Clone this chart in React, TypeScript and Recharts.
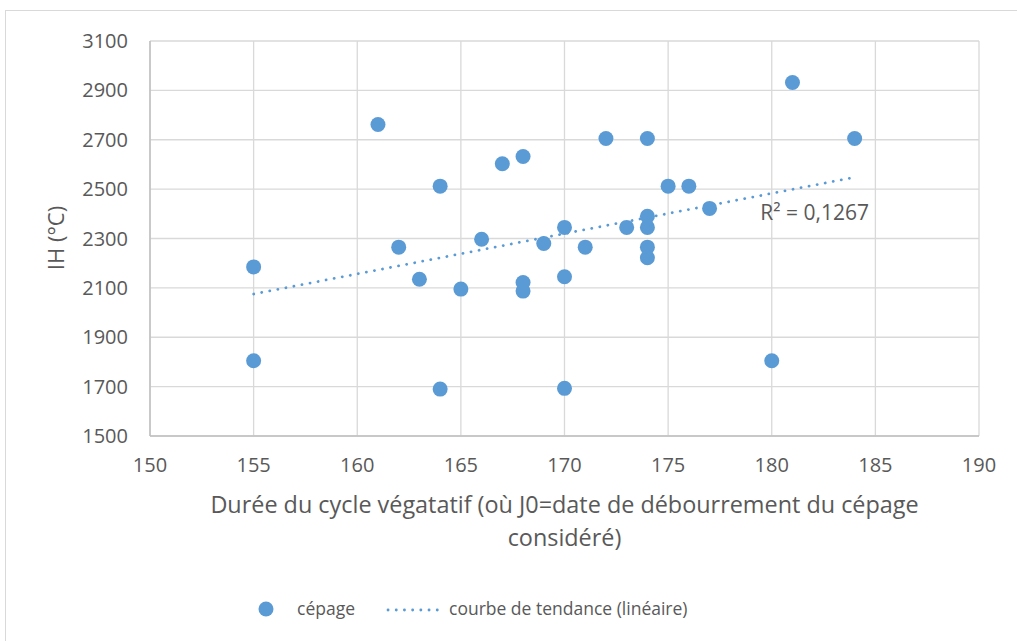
import { ScatterChart, Scatter, XAxis, YAxis, CartesianGrid, ReferenceDot } from 'recharts'

const durations = [155, 155, 161, 162, 163, 164, 164, 165, 166, 167, 168, 168, 168, 169, 170, 170, 170, 171, 172, 173, 174, 174, 174, 174, 174, 175, 176, 177, 180, 181, 184]
const ihValues = [2185, 1805, 2762, 2265, 2135, 2512, 1690, 2095, 2297, 2603, 2632, 2122, 2087, 2280, 2345, 2145, 1693, 2265, 2705, 2345, 2705, 2390, 2345, 2265, 2222, 2512, 2512, 2422, 1805, 2932, 2705]

const trendX = [155, 184]
const trendY = [2075, 2548]

const xTicks = [150, 155, 160, 165, 170, 175, 180, 185, 190]
const yTicks = [1500, 1700, 1900, 2100, 2300, 2500, 2700, 2900, 3100]

const BLUE = '#5b9bd5'
const TEXT = '#595959'
const FONT = '"Open Sans", sans-serif'

const points = durations.map((d, i) => ({ x: d, y: ihValues[i] }))
const trend = trendX.map((d, i) => ({ x: d, y: trendY[i] }))

export default function App() {
  return (
    <div style={{ position: 'fixed', left: 0, top: 0, width: 1017, height: 641, overflow: 'hidden', background: '#fff', fontFamily: FONT }}>
      <div style={{ position: 'absolute', left: 5, top: 10, width: 1100, height: 700, border: '1.5px solid #d9d9d9' }} />
      <ScatterChart width={1017} height={641} margin={{ top: 41, right: 38, bottom: 175, left: 90 }} style={{ position: 'absolute', left: 0, top: 0 }}>
        <CartesianGrid stroke="#d9d9d9" strokeWidth={1.3} />
        <XAxis
          type="number"
          dataKey="x"
          domain={[150, 190]}
          ticks={xTicks}
          tickLine={false}
          tickSize={0}
          tickMargin={22}
          axisLine={{ stroke: '#bfbfbf', strokeWidth: 1.5 }}
          tick={{ fill: TEXT, fontSize: 20, fontFamily: FONT }}
          label={{
            content: (p: any) => {
              const vb = p.viewBox
              const cx = vb.x + vb.width / 2
              return (
                <text textAnchor="middle" fill={TEXT} fontSize={23.4} fontFamily={FONT}>
                  <tspan x={cx} y={513}>Durée du cycle végatatif (où J0=date de débourrement du cépage</tspan>
                  <tspan x={cx} y={546}>considéré)</tspan>
                </text>
              )
            },
          }}
        />
        <YAxis
          type="number"
          dataKey="y"
          domain={[1500, 3100]}
          ticks={yTicks}
          width={60}
          tickLine={false}
          tickSize={0}
          tickMargin={22}
          axisLine={{ stroke: '#bfbfbf', strokeWidth: 1.5 }}
          tick={{ fill: TEXT, fontSize: 20, fontFamily: FONT }}
          label={{
            content: () => (
              <text x={55} y={238} transform="rotate(-90 55 238)" textAnchor="middle" dominantBaseline="central" fill={TEXT} fontSize={22} fontFamily={FONT}>
                IH (°C)
              </text>
            ),
          }}
        />
        <Scatter
          name="courbe de tendance (linéaire)"
          data={trend}
          isAnimationActive={false}
          fill={BLUE}
          line={{ stroke: BLUE, strokeWidth: 2.8, strokeDasharray: '0.1 8.1', strokeLinecap: 'round' }}
          shape={() => <g />}
        />
        <Scatter
          name="cépage"
          data={points}
          isAnimationActive={false}
          fill={BLUE}
          shape={(p: any) => <circle cx={p.cx} cy={p.cy} r={7.5} fill={BLUE} />}
        />
        <ReferenceDot
          x={179.45}
          y={2407}
          r={0}
          label={{
            content: (p: any) => (
              <text x={p.viewBox.x} y={p.viewBox.y} dominantBaseline="central" fill={TEXT} fontSize={21} fontFamily={FONT}>
                R² = 0,1267
              </text>
            ),
          }}
        />
      </ScatterChart>
      <div style={{ position: 'absolute', left: 0, top: 595, width: 1017, height: 30, color: TEXT, fontSize: 17.5, lineHeight: '26px' }}>
        <svg width={18} height={18} style={{ position: 'absolute', left: 257, top: 5 }}>
          <circle cx={9} cy={9} r={7.5} fill={BLUE} />
        </svg>
        <span style={{ position: 'absolute', left: 297, top: 0 }}>cépage</span>
        <svg width={60} height={10} style={{ position: 'absolute', left: 386, top: 10 }}>
          <line x1={2} y1={5} x2={58} y2={5} stroke={BLUE} strokeWidth={2.8} strokeDasharray="0.1 8.1" strokeLinecap="round" />
        </svg>
        <span style={{ position: 'absolute', left: 449, top: 0 }}>courbe de tendance (linéaire)</span>
      </div>
    </div>
  )
}
